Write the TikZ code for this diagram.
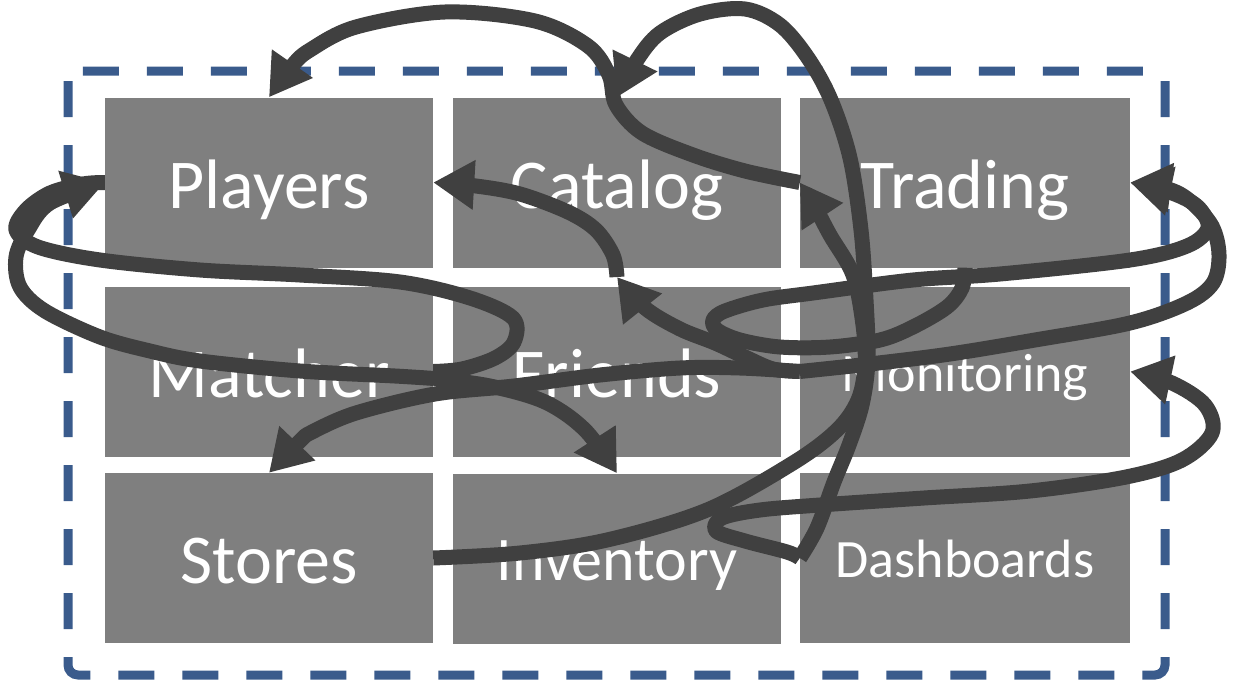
\documentclass[tikz,border=0pt]{standalone}
\usepackage{fontspec}
\setmainfont{Carlito}
\usetikzlibrary{arrows.meta,calc}
\definecolor{boxgray}{HTML}{7F7F7F}
\definecolor{wire}{HTML}{404040}
\definecolor{frameblue}{RGB}{58,91,140}
\tikzset{
  svc/.style={fill=boxgray, minimum width=328pt, minimum height=170pt, inner sep=0pt, text=white, align=center},
  txtbig/.style={font=\fontsize{70}{80}\selectfont, text height=51pt, text depth=0pt},
  txtmid/.style={font=\fontsize{62}{70}\selectfont, text height=43pt, text depth=0pt},
  txtsmall/.style={font=\fontsize{54}{60}\selectfont, text height=39pt, text depth=0pt},
  wirepath/.style={draw=wire, line width=15pt, line join=round},
  arr/.style={-{Triangle[length=41pt,width=47pt]}},
  framebox/.style={draw=frameblue, line width=9pt, dash pattern=on 36pt off 28pt, rounded corners=10pt},
}
\begin{document}
\begin{tikzpicture}[x=1pt,y=-1pt]
\useasboundingbox (0,0) rectangle (1234,680);
\fill[white] (0,0) rectangle (1234,680);
\draw[framebox] (68,71) rectangle (1165,675);

\node[svc,txtbig] (Pl) at (269,182.5) {Players};
\node[svc,txtbig] (Ca) at (617,182.5) {Catalog};
\node[svc,txtbig,minimum width=330pt] (Tr) at (965,182.5) {Trading};
\node[svc,txtbig] (Ma) at (269,371.5) {Matcher};
\node[svc,txtbig] (Fr) at (617,371.5) {Friends};
\node[svc,txtsmall,minimum width=330pt] (Mo) at (965,371.5) {Monitoring};
\node[svc,txtbig] (St) at (269,558) {Stores};
\node[svc,txtmid] (In) at (617,558.5) {Inventory};
\node[svc,txtsmall,minimum width=330pt] (Da) at (965,558) {Dashboards};

\coordinate (gap) at ($(Ca.south)!0.5!(Fr.north)$);
\coordinate (mx) at ($(Ma.east)+(1,7)$);

% Trading -> Players (top arc)
\draw[wirepath,arr] plot[smooth,tension=0.55] coordinates {(Tr.west) (745,171) (693,155) (642,133) (616,105) (609,75) (588,46) (535,21) (445,12) (356,27) (310,50) (292,66) (Pl.north)};
% Dashboards -> Catalog (tall loop)
\draw[wirepath,arr] plot[smooth,tension=0.55] coordinates {(Da.west) (817,528) (834,482) (849,445) (862,405) (868,360) (866,300) (861,230) (850,158) (831,100) (808,58) (780,25) (745,9) (700,14) (660,33) (637,60) (Ca.north)};
% Stores -> Trading
\draw[wirepath,arr] plot[smooth,tension=0.55] coordinates {(St.east) (520,553) (607,540) (707,510) (793,463) (837,430) (858,400) (865,365) (863,325) (853,275) (830,235) (814,205) (Tr.west)};
% Dashboards -> Monitoring
\draw[wirepath,arr] plot[smooth,tension=0.55] coordinates {(Da.west) (787,552) (745,541) (716,531) (722,518) (760,510) (820,505) (924,498) (1030,491) (1126,477) (1182,460) (1212,433) (1205,405) (1172,383) (Mo.east)};
% Trading (bottom) -> Trading (right)
\draw[wirepath,arr] plot[smooth,tension=0.55] coordinates {(Tr.south) (962,288) (947,307) (913,327) (880,340) (830,347) (780,347) (740,340) (717,330) (713,320) (725,311) (763,300) (813,293) (913,280) (1000,274) (1130,260) (1187,246) (1208,228) (1198,207) (1172,193) (Tr.east)};
% Monitoring -> Trading
\draw[wirepath,arr] plot[smooth,tension=0.55] coordinates {(Mo.west) (870,364) (950,354) (1035,340) (1130,323) (1187,303) (1213,283) (1219,255) (1212,226) (1190,201) (1168,189) (Tr.east)};
% Monitoring -> Catalog/Friends gap
\draw[wirepath,arr] plot[smooth,tension=0.55] coordinates {(Mo.west) (773,369) (745,357) (715,343) (680,329) (645,308) (gap)};
% Monitoring -> Stores
\draw[wirepath,arr] plot[smooth,tension=0.55] coordinates {(Mo.west) (740,368) (680,368) (600,375) (514,386) (435,394) (356,413) (312,432) (300,441) (St.north)};
% gap -> Players (right)
\draw[wirepath,arr] plot[smooth,tension=0.55] coordinates {(gap) (613,255) (596,230) (568,212) (520,194) (476,186) (Pl.east)};
% Matcher -> Players (outer left loop)
\draw[wirepath,arr] plot[smooth,tension=0.55] coordinates {(mx) (395,376) (300,371) (200,361) (150,351) (100,337) (45,311) (20,287) (16,257) (28,230) (50,203) (Pl.west)};
% Matcher -> Inventory
\draw[wirepath,arr] plot[smooth,tension=0.55] coordinates {(mx) (490,386) (545,402) (585,430) (In.north)};
% Players -> Matcher (inner left loop)
\draw[wirepath] plot[smooth,tension=0.55] coordinates {(Pl.west) (83,184) (50,193) (26,210) (16,230) (38,247) (100,260) (200,270) (300,275) (400,282) (470,298) (513,318) (514,342) (495,358) (462,369) (Ma.east)};
\end{tikzpicture}
\end{document}
